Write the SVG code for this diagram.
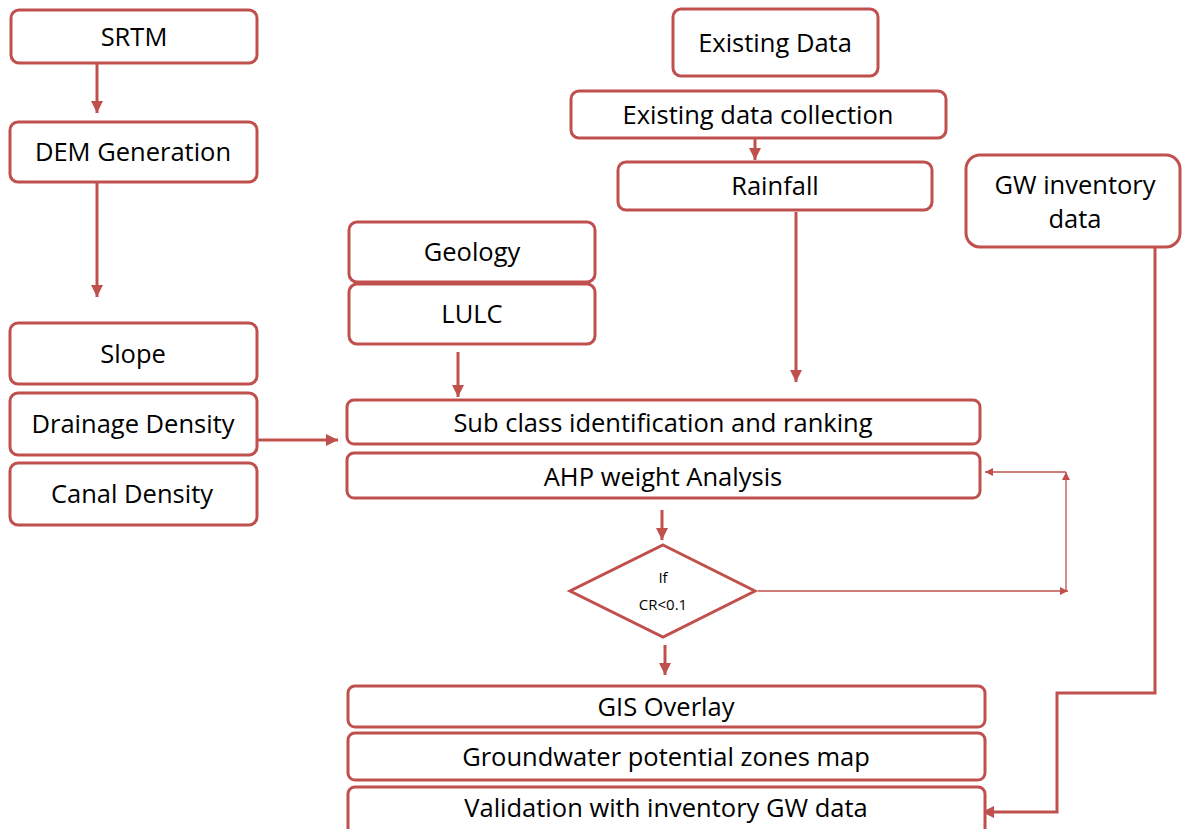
<svg xmlns="http://www.w3.org/2000/svg" width="1182" height="829" viewBox="0 0 1182 829">
<style>
.b{fill:#fff;stroke:#C0504D;stroke-width:3}
.t{font-family:"Open Sans","Liberation Sans",Arial,sans-serif;font-size:25.5px;fill:#000;text-anchor:middle}
.s{font-family:"Open Sans","Liberation Sans",Arial,sans-serif;font-size:15px;fill:#000;text-anchor:middle}
.c{fill:none;stroke:#C0504D;stroke-width:3}
.f{fill:none;stroke:#C0504D;stroke-width:1.3}
</style>
<defs>
<marker id="a" viewBox="0 0 10 10" refX="10" refY="5" markerWidth="4" markerHeight="4" markerUnits="strokeWidth" orient="auto"><path d="M0,0L10,5L0,10z" fill="#C0504D"/></marker>
<marker id="af" viewBox="0 0 10 10" refX="10" refY="5" markerWidth="10" markerHeight="8" markerUnits="userSpaceOnUse" orient="auto"><path d="M0,0L10,5L0,10z" fill="#C0504D"/></marker>
</defs>
<rect width="1182" height="829" fill="#fff"/>
<g id="connectors">
<path class="c" d="M97,64V113" marker-end="url(#a)"/>
<path class="c" d="M97,183V297" marker-end="url(#a)"/>
<path class="c" d="M257,440H338" marker-end="url(#a)"/>
<path class="c" d="M458,352V397" marker-end="url(#a)"/>
<path class="c" d="M755,139V160" marker-end="url(#a)"/>
<path class="c" d="M796,212V382" marker-end="url(#a)"/>
<path class="c" d="M662,510V540" marker-end="url(#a)"/>
<path class="c" d="M665,645V675" marker-end="url(#a)"/>
<path class="c" d="M1155,247V693H1057V812H982" marker-end="url(#a)"/>
<path class="f" d="M758,591H1068" marker-end="url(#af)"/>
<path class="f" d="M1066,591V472" marker-end="url(#af)"/>
<path class="f" d="M1066,472H985" marker-end="url(#af)"/>
</g>
<g id="srtm"><rect class="b" x="11" y="10" width="246" height="53" rx="8"/><text class="t" x="134" y="46">SRTM</text></g>
<g id="dem"><rect class="b" x="10" y="122" width="247" height="60" rx="8"/><text class="t" x="133" y="161">DEM Generation</text></g>
<g id="slope"><rect class="b" x="10" y="323" width="247" height="61" rx="8"/><text class="t" x="133" y="363">Slope</text></g>
<g id="drainage"><rect class="b" x="10" y="393" width="247" height="62" rx="8"/><text class="t" x="133" y="433">Drainage Density</text></g>
<g id="canal"><rect class="b" x="10" y="463" width="247" height="62" rx="8"/><text class="t" x="132" y="503">Canal Density</text></g>
<g id="geology"><rect class="b" x="349" y="222" width="246" height="60" rx="8"/><text class="t" x="472" y="261">Geology</text></g>
<g id="lulc"><rect class="b" x="349" y="284" width="246" height="60" rx="8"/><text class="t" x="472" y="323">LULC</text></g>
<g id="existing-data"><rect class="b" x="673" y="9" width="205" height="67" rx="8"/><text class="t" x="775" y="52">Existing Data</text></g>
<g id="collection"><rect class="b" x="571" y="91" width="375" height="47" rx="8"/><text class="t" x="758" y="124">Existing data collection</text></g>
<g id="rainfall"><rect class="b" x="618" y="162" width="314" height="48" rx="8"/><text class="t" x="775" y="195">Rainfall</text></g>
<g id="gw-inventory"><rect class="b" x="966" y="155" width="214" height="92" rx="14"/><text class="t" x="1075" y="194">GW inventory</text><text class="t" x="1075" y="228">data</text></g>
<g id="subclass"><rect class="b" x="347" y="400" width="633" height="44" rx="7"/><text class="t" x="663" y="432">Sub class identification and ranking</text></g>
<g id="ahp"><rect class="b" x="347" y="453" width="633" height="45" rx="7"/><text class="t" x="663" y="486">AHP weight Analysis</text></g>
<g id="decision"><polygon class="b" points="663,545 755,591 663,637 570,591"/><text class="s" x="663" y="583">If</text><text class="s" x="663" y="610">CR&lt;0.1</text></g>
<g id="gis"><rect class="b" x="348" y="686" width="637" height="41" rx="7"/><text class="t" x="666" y="716">GIS Overlay</text></g>
<g id="gwmap"><rect class="b" x="348" y="733" width="637" height="47" rx="7"/><text class="t" x="666" y="766">Groundwater potential zones map</text></g>
<g id="validation"><rect class="b" x="348" y="787" width="637" height="48" rx="7"/><text class="t" x="666" y="817">Validation with inventory GW data</text></g>
</svg>
